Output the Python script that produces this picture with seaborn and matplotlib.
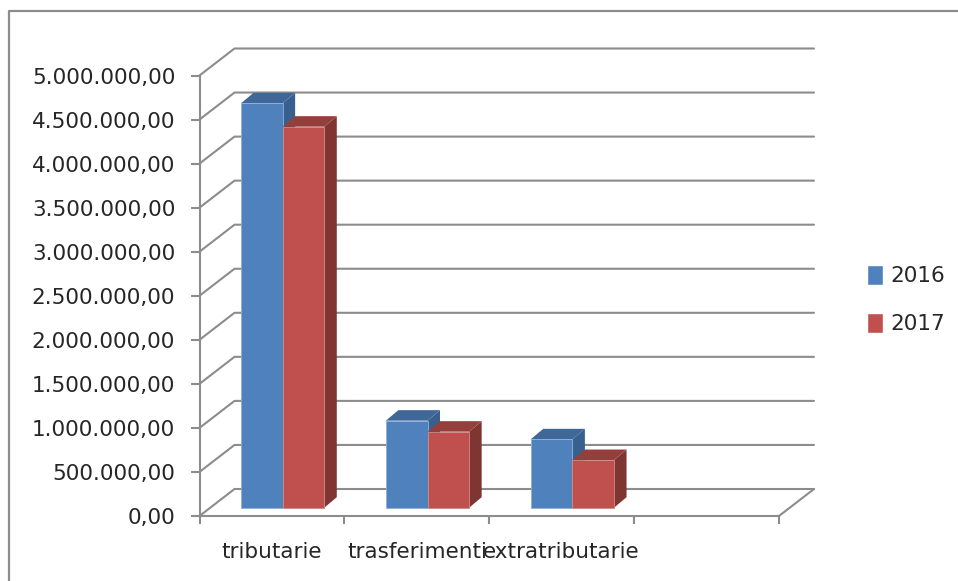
import pandas as pd
import seaborn as sns
import matplotlib.pyplot as plt
from matplotlib.patches import Polygon
from matplotlib.transforms import Affine2D, IdentityTransform
from matplotlib.lines import Line2D
from matplotlib.ticker import FuncFormatter

# Values
categories = ['tributarie', 'trasferimenti', 'extratributarie']
empty_slot = ' '
values_2016 = [4590000, 988000, 776000]
values_2017 = [4325000, 863000, 541000]
y_ticks = [0, 500000, 1000000, 1500000, 2000000, 2500000, 3000000, 3500000, 4000000, 4500000, 5000000]

W, H = 958, 581
GREY = '#8c8c8c'
TEXT = '#262626'

sns.set_style('white')
plt.rcParams['font.family'] = ['DejaVu Sans']

df = pd.DataFrame({
    'categoria': categories * 2,
    'anno': ['2016'] * 3 + ['2017'] * 3,
    'valore': values_2016 + values_2017,
})

fig = plt.figure(figsize=(W / 100, H / 100), dpi=100)
ax = fig.add_axes([199.5 / W, 1 - 516 / H, 579.5 / W, 440.5 / H])
ax.patch.set_alpha(0)

sns.barplot(data=df, x='categoria', y='valore', hue='anno',
            order=categories + [empty_slot], hue_order=['2016', '2017'],
            palette=['#4f81bd', '#c0504d'], width=0.575, saturation=1,
            gap=0, errorbar=None, ax=ax)

ax.set_xlim(-0.5, 3.5)
ax.set_ylim(0, 5000000)
ax.set_xlabel('')
ax.set_ylabel('')
sns.despine(ax=ax)
for side in ['left', 'bottom']:
    ax.spines[side].set_color(GREY)
    ax.spines[side].set_linewidth(1.5)


def it_format(v, pos):
    return f'{v:,.2f}'.replace(',', 'X').replace('.', ',').replace('X', '.')


ax.set_yticks(y_ticks)
ax.yaxis.set_major_formatter(FuncFormatter(it_format))
ax.tick_params(axis='y', left=True, length=6.5, width=1.5, color=GREY, pad=11,
               labelsize=15.5, labelcolor=TEXT)
ax.set_xticks([0, 1, 2, 3])
ax.set_xticklabels(categories + [''])
ax.set_xticks([-0.5, 0.5, 1.5, 2.5, 3.5], minor=True)
ax.tick_params(axis='x', which='major', bottom=False, length=0, pad=19,
               labelsize=15.5, labelcolor=TEXT)
ax.tick_params(axis='x', which='minor', bottom=True, length=6, width=1.5, color=GREY)

# pseudo-3D walls, in pixels from the axis scales
depth_x, depth_y = 35, 27
for v in y_ticks:
    x0, y0 = ax.transData.transform((-0.5, v))
    x1, y1 = ax.transData.transform((3.5, v))
    xs = [x0, x0 + depth_x, x1 + depth_x]
    ys = [y0, y0 + depth_y, y1 + depth_y]
    ax.add_line(Line2D(xs, ys, color=GREY, lw=1.5, transform=IdentityTransform(),
                       clip_on=False, zorder=1))
x1, y1 = ax.transData.transform((3.5, 0))
ax.add_line(Line2D([x1, x1 + depth_x], [y1, y1 + depth_y], color=GREY, lw=1.5,
                   transform=IdentityTransform(), clip_on=False, zorder=1))

# bar fronts sit inside the floor, sides and tops are added behind them
shift_x, shift_y = 10.7, 8.3
bar_dx, bar_dy = 12.5, 10.5
top_colors = ['#3f6797', '#953f3c']
side_colors = ['#38608e', '#7f3633']
edge_colors = ['#8fb0dc', '#d08a88']
for i, container in enumerate(ax.containers):
    z = 2 + i * 2
    for bar in container:
        bar.set_transform(ax.transData + Affine2D().translate(shift_x, shift_y))
        bar.set_clip_on(False)
        bar.set_zorder(z + 1)
        bar.set_edgecolor(edge_colors[i])
        bar.set_linewidth(0.6)
        (l, b), (r, t) = ax.transData.transform(
            [(bar.get_x(), 0), (bar.get_x() + bar.get_width(), bar.get_height())])
        l, r = l + shift_x, r + shift_x
        b, t = b + shift_y, t + shift_y
        side = [(r, b), (r + bar_dx, b + bar_dy), (r + bar_dx, t + bar_dy), (r, t)]
        top = [(l, t), (l + bar_dx, t + bar_dy), (r + bar_dx, t + bar_dy), (r, t)]
        ax.add_patch(Polygon(side, closed=True, fc=side_colors[i], ec='none',
                             transform=IdentityTransform(), clip_on=False, zorder=z))
        ax.add_patch(Polygon(top, closed=True, fc=top_colors[i], ec='none',
                             transform=IdentityTransform(), clip_on=False, zorder=z))

sns.move_legend(ax, 'center left', bbox_to_anchor=(867 / W, 1 - 299.5 / H),
                bbox_transform=fig.transFigure, title=None, frameon=False,
                fontsize=15.5, handlelength=0.72, handleheight=1.05,
                handletextpad=0.36, labelspacing=1.22, labelcolor=TEXT,
                borderpad=0, borderaxespad=0)

# chart frame
fig.add_artist(Line2D([8.5 / W, 8.5 / W, 1], [0, 1 - 11 / H, 1 - 11 / H],
                      color=GREY, lw=1.6, transform=fig.transFigure))

fig.savefig('out.png', dpi=100)
